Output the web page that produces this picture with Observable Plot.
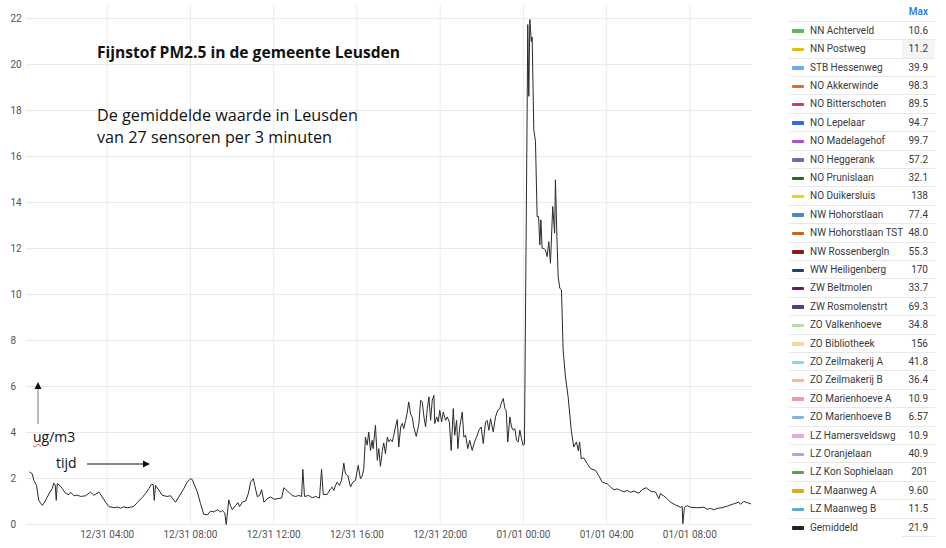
<!DOCTYPE html>
<html>
<head>
<meta charset="utf-8">
<script src="https://cdn.jsdelivr.net/npm/d3@7"></script>
<script src="https://cdn.jsdelivr.net/npm/@observablehq/plot@0.6"></script>
<style>
  html, body { margin: 0; padding: 0; background: #fff; }
  #wrap { position: relative; width: 946px; height: 548px; overflow: hidden; font-family: Roboto, sans-serif; }
  #chart { position: absolute; left: 0; top: 0; }
  .ann { position: absolute; font-family: "Open Sans", sans-serif; color: #111; white-space: nowrap; }
  #legend .row { position: absolute; left: 789px; width: 146px; height: 18.4px; border-top: 1px solid #e8e8e8; box-sizing: border-box; font-size: 10px; color: #3a3a3a; }
  #legend .sw { position: absolute; left: 3px; top: 7.5px; width: 12px; height: 3.5px; border-radius: 1px; }
  #legend .nm { position: absolute; left: 21px; top: 0; line-height: 17.4px; }
  #legend .val { position: absolute; right: 0; width: 33px; top: 0; height: 17.4px; line-height: 17.4px; text-align: right; padding-right: 7px; box-sizing: border-box; }
</style>
</head>
<body>
<div id="wrap">
  <div id="chart"></div>
  <div class="ann" style="left:97px; top:42px; font-size:15.6px; font-weight:700; line-height:20px;">Fijnstof PM2.5 in de gemeente Leusden</div>
  <div class="ann" style="left:97px; top:104px; font-size:16.2px; line-height:22px;">De gemiddelde waarde in Leusden<br>van 27 sensoren per 3 minuten</div>
  <div class="ann" style="left:33px; top:428px; font-size:14px; line-height:18px;"><span style="text-decoration: underline wavy #e53935; text-decoration-thickness:1px;">ug</span>/m3</div>
  <div class="ann" style="left:56px; top:454px; font-size:14px; line-height:18px;">tijd</div>
  <svg id="arrows" width="946" height="548" style="position:absolute;left:0;top:0;pointer-events:none">
    <line x1="38" y1="424" x2="38" y2="388" stroke="#777" stroke-width="1"/>
    <polygon points="34.5,389 41.5,389 38,382" fill="#111"/>
    <line x1="87" y1="464" x2="144" y2="464" stroke="#111" stroke-width="1"/>
    <polygon points="143,460.5 143,467.5 150,464" fill="#111"/>
  </svg>
  <div id="legend"></div>
</div>
<script>
// ---- Data ----
// hours since 12/31 00:00
const hours = [
0.28,0.40,0.47,0.60,0.71,0.88,0.99,1.12,1.24,1.36,1.43,1.50,1.55,1.60,1.72,1.84,2.00,2.16,2.24,2.40,
2.56,2.72,2.96,3.20,3.36,3.60,3.76,3.92,4.08,4.32,4.48,4.64,4.80,4.96,5.12,5.28,5.44,5.68,5.84,6.00,
6.12,6.21,6.26,6.32,6.48,6.64,6.88,7.04,7.28,7.44,7.68,7.84,8.00,8.09,8.33,8.48,8.64,8.81,8.97,9.12,
9.29,9.45,9.53,9.65,9.72,9.84,9.93,10.01,10.17,10.28,10.36,10.49,10.65,10.78,10.89,11.02,11.09,11.21,11.32,11.42,
11.53,11.69,11.85,12.01,12.38,12.49,12.60,12.73,12.89,13.05,13.21,13.34,13.40,13.48,13.69,13.85,14.01,14.20,14.30,14.38,
14.57,14.73,14.81,14.89,14.97,15.05,15.16,15.26,15.37,15.45,15.56,15.69,15.80,15.93,16.06,16.17,16.25,16.33,16.41,16.49,
16.57,16.65,16.73,16.78,16.89,16.98,17.05,17.13,17.22,17.29,17.37,17.46,17.53,17.61,17.70,17.77,17.85,17.94,18.01,18.10,
18.18,18.25,18.34,18.42,18.49,18.58,18.66,18.73,18.85,18.98,19.06,19.14,19.22,19.30,19.38,19.46,19.54,19.62,19.70,19.74,
19.83,19.91,19.98,20.07,20.15,20.26,20.34,20.44,20.53,20.63,20.70,20.79,20.85,20.94,21.06,21.14,21.22,21.33,21.42,21.54,
21.65,21.75,21.86,21.97,22.07,22.18,22.26,22.34,22.42,22.55,22.66,22.77,22.87,22.93,23.03,23.11,23.17,23.25,23.35,23.43,
23.51,23.59,23.67,23.75,23.83,23.91,23.99,24.05,24.18,24.21,24.26,24.31,24.38,24.42,24.50,24.58,24.66,24.73,24.79,24.84,
24.90,24.98,25.06,25.14,25.22,25.30,25.41,25.50,25.54,25.61,25.67,25.75,25.83,25.91,26.02,26.15,26.30,26.42,26.55,26.64,
26.70,26.78,26.90,27.07,27.23,27.47,27.62,27.79,28.03,28.19,28.35,28.51,28.67,28.83,28.99,29.15,29.31,29.55,29.71,29.90,
30.11,30.35,30.51,30.59,30.83,31.07,31.31,31.55,31.63,31.66,31.74,31.87,32.03,32.35,32.67,32.83,32.99,33.15,33.31,33.55,
33.80,34.11,34.35,34.43,34.59,34.76,34.92
];
// Gemiddeld PM2.5 (ug/m3)
const pm25 = [
2.28,2.20,1.92,1.70,1.05,0.83,0.97,1.19,1.41,1.56,1.80,1.72,1.05,1.78,1.70,1.56,1.35,1.30,1.40,1.25,
1.28,1.22,1.25,1.41,1.27,1.41,1.20,0.97,0.78,0.73,0.76,0.71,0.77,0.73,0.75,0.79,0.95,1.17,1.35,1.56,
1.74,1.74,1.05,1.70,1.50,1.27,1.22,1.25,0.97,1.20,1.56,1.84,1.99,1.95,1.41,0.92,0.44,0.42,0.58,0.55,
0.64,0.55,0.60,0.50,0.00,1.07,0.80,0.64,0.83,0.95,0.78,0.97,1.02,1.34,1.84,1.99,1.70,1.22,1.25,1.51,
0.97,1.12,1.20,1.10,1.15,1.60,1.50,1.40,1.26,1.22,1.26,1.22,2.40,1.22,1.26,1.16,1.22,1.15,2.40,1.31,
1.31,1.55,1.62,1.48,1.70,1.84,1.70,1.92,2.67,2.20,2.13,1.63,1.84,1.92,2.57,1.99,2.10,2.43,3.80,3.45,
4.02,3.22,3.66,3.30,4.31,2.79,3.30,2.53,3.22,3.55,3.08,3.80,3.60,3.70,3.60,3.88,4.24,4.56,3.37,4.24,
4.40,4.17,4.53,4.89,5.33,4.80,4.66,4.24,3.83,4.39,5.40,5.33,4.68,4.24,5.04,5.55,4.53,5.40,5.62,4.39,
4.68,4.46,4.97,4.46,4.89,4.53,4.68,4.46,3.22,5.04,3.88,4.53,3.30,4.24,4.89,3.80,3.88,3.30,3.66,3.22,
3.59,3.80,4.10,4.24,3.52,4.46,4.53,4.10,4.60,4.03,4.68,4.97,5.04,5.26,5.48,5.04,4.97,3.59,4.68,4.24,
4.10,4.17,3.66,3.59,4.10,3.73,3.44,3.50,18.04,21.74,18.62,21.96,21.00,21.20,17.17,16.66,13.39,13.40,12.16,13.25,
12.01,12.00,11.94,11.65,12.30,11.36,13.83,12.67,14.99,12.50,10.78,10.27,10.20,7.58,6.42,5.55,4.10,3.37,3.59,3.20,
3.59,2.86,2.90,2.64,2.43,2.35,2.13,1.84,1.77,1.63,1.51,1.55,1.48,1.42,1.48,1.40,1.45,1.36,1.52,1.60,
1.45,1.41,1.12,1.34,1.19,0.97,0.85,0.75,0.78,0.03,0.75,0.82,0.75,0.73,0.75,0.66,0.70,0.64,0.70,0.73,
0.80,0.90,0.97,0.88,1.00,0.95,0.90
];
const yTicks = [0,2,4,6,8,10,12,14,16,18,20,22];
const xTickHours = [4,8,12,16,20,24,28,32];

const sensorNames = ["NN Achterveld","NN Postweg","STB Hessenweg","NO Akkerwinde","NO Bitterschoten","NO Lepelaar","NO Madelagehof","NO Heggerank","NO Prunislaan","NO Duikersluis","NW Hohorstlaan","NW Hohorstlaan TST","NW Rossenbergln","WW Heiligenberg","ZW Beltmolen","ZW Rosmolenstrt","ZO Valkenhoeve","ZO Bibliotheek","ZO Zeilmakerij A","ZO Zeilmakerij B","ZO Marienhoeve A","ZO Marienhoeve B","LZ Hamersveldswg","LZ Oranjelaan","LZ Kon Sophielaan","LZ Maanweg A","LZ Maanweg B","Gemiddeld"];
const sensorMax = ["10.6","11.2","39.9","98.3","89.5","94.7","99.7","57.2","32.1","138","77.4","48.0","55.3","170","33.7","69.3","34.8","156","41.8","36.4","10.9","6.57","10.9","40.9","201","9.60","11.5","21.9"];
const sensorColors = ["#5cb85c","#e6b90e","#6aaaf0","#f2661f","#e0364f","#2f6fd6","#a551d6","#7a66a8","#1f6e1f","#f2d01b","#4a86c8","#c8641e","#8b1a1a","#1d3f7a","#6e1a5e","#4e3f7e","#b5dba8","#f7d9a0","#7fdcef","#f7b896","#f29a9a","#86b6de","#e9a8e0","#b0a6e0","#5c9e4c","#e6a917","#5aaec9","#222222"];

// ---- Build ----
const base = Date.UTC(2021, 11, 31);
const toDate = h => new Date(base + h * 3600e3);
const data = hours.map((h, i) => ({t: toDate(h), v: pm25[i]}));
const fmt = d3.utcFormat("%m/%d %H:%M");

const chart = Plot.plot({
  width: 946,
  height: 548,
  marginLeft: 26,
  marginRight: 194,
  marginTop: 5,
  marginBottom: 24,
  style: {fontFamily: "Roboto, sans-serif", fontSize: "10px", background: "transparent"},
  x: {type: "utc", domain: [toDate(0.12), toDate(35.01)]},
  y: {domain: [0, 22.57]},
  marks: [
    Plot.gridY(yTicks, {stroke: "#e9e9e9", strokeOpacity: 1}),
    Plot.gridX(xTickHours.map(toDate), {stroke: "#ececec", strokeOpacity: 1}),
    Plot.line(data, {x: "t", y: "v", stroke: "#2a2a2a", strokeWidth: 1}),
    Plot.axisY(yTicks, {tickSize: 0, tickPadding: 0, textAnchor: "start", dx: -16, fill: "#555", label: null}),
    Plot.axisX(xTickHours.map(toDate), {tickSize: 0, tickPadding: 6, tickFormat: fmt, fill: "#555", label: null})
  ]
});
document.getElementById("chart").appendChild(chart);

// Legend table
const legend = document.getElementById("legend");
const hdr = document.createElement("div");
hdr.textContent = "Max";
hdr.style.cssText = "position:absolute;left:900px;width:28px;text-align:right;top:6px;font-size:10px;font-weight:500;color:#1a73e8;";
legend.appendChild(hdr);
sensorNames.forEach((name, i) => {
  const row = document.createElement("div");
  row.className = "row";
  row.style.top = (20.8 + i * 18.4) + "px";
  row.innerHTML = `<span class="sw" style="background:${sensorColors[i]}"></span><span class="nm">${name}</span><span class="val"${i === 1 ? ' style="background:#f4f4f4"' : ''}>${sensorMax[i]}</span>`;
  legend.appendChild(row);
});
const last = document.createElement("div");
last.style.cssText = `position:absolute;left:902px;width:33px;top:${20.8 + sensorNames.length * 18.4}px;border-top:1px solid #e8e8e8;`;
legend.appendChild(last);
</script>
</body>
</html>
